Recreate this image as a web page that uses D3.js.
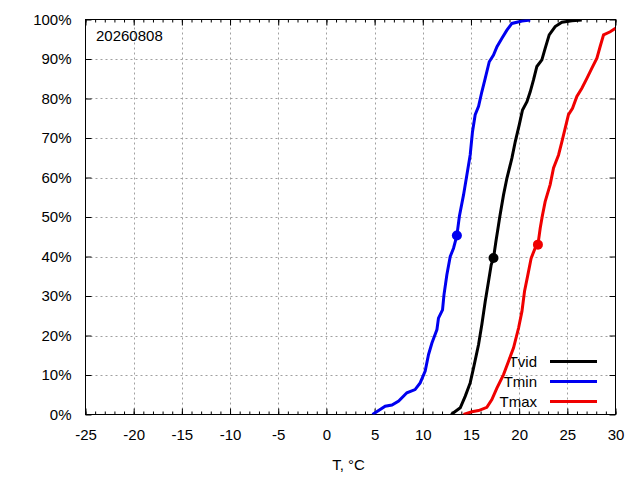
<!DOCTYPE html>
<html>
<head>
<meta charset="utf-8">
<script src="https://cdn.jsdelivr.net/npm/d3@7"></script>
<style>
  body { margin: 0; background: #fff; }
  svg { display: block; font-family: "Liberation Sans", Arial, sans-serif; }
</style>
</head>
<body>
<svg width="640" height="480"></svg>
<script>
// cumulative curves, [T, %]
var tvid = [[12.95, 0], [13.89, 1.7], [14.4, 4.6], [14.92, 8], [15.27, 11.8], [15.79, 17.7], [16.13, 22.8],
  [16.48, 28.6], [16.82, 33.7], [17.1, 37.9], [17.34, 39.6], [17.59, 43.8], [17.86, 48], [18.0, 50.2],
  [18.38, 55.6], [18.73, 59.8], [19.25, 64.9], [19.6, 69.1], [20.01, 73.3], [20.35, 77.1], [20.81, 79.2],
  [21.15, 81.7], [21.49, 84.7], [21.84, 88.1], [22.36, 89.8], [22.7, 92.7], [23.12, 96.1], [23.74, 98.2],
  [24.44, 99.3], [25.48, 99.7], [26.5, 99.9]];
var tmin = [[4.78, 0], [6.1, 2.1], [6.8, 2.4], [7.5, 3.4], [8.35, 5.5], [9.2, 6.3], [9.73, 8.0], [10.25, 11],
  [10.6, 15.2], [10.95, 18.1], [11.47, 21.5], [11.63, 24.4], [12.05, 26.5], [12.2, 30.3], [12.5, 35.4],
  [12.85, 40], [13.19, 42.1], [13.54, 45.3], [13.8, 50.2], [14.23, 55.6], [14.58, 60.7], [14.92, 65.7],
  [15.16, 71.6], [15.44, 75.9], [15.79, 78], [16.13, 81.7], [16.48, 85.1], [16.9, 89.3], [17.34, 91],
  [17.7, 93.1], [18.2, 95.2], [18.73, 97.3], [19.25, 99], [20.3, 99.6], [21.15, 99.9]];
var tmax = [[14.23, 0], [15.1, 0.7], [15.79, 1], [16.65, 1.8], [17.17, 3.8], [17.69, 6.7], [18.38, 10.1],
  [18.9, 13.5], [19.42, 16.9], [19.94, 21.9], [20.29, 26.1], [20.56, 31.2], [20.91, 35.4], [21.25, 39.6],
  [21.74, 42.6], [21.95, 43.0], [22.19, 47.2], [22.4, 50.2], [22.7, 53.9], [23.22, 58.2], [23.57, 62.4],
  [24.09, 65.7], [24.44, 69.1], [24.78, 72.5], [25.12, 75.9], [25.54, 77.5], [25.99, 80.5], [26.51, 82.6],
  [27.03, 85.1], [27.55, 87.7], [28.07, 90.2], [28.4, 93.1], [28.76, 96.1], [29.45, 96.9], [30.0, 97.8]];

// current-day markers
var marks = [[17.34, 39.6], [13.54, 45.3], [21.95, 43.0]];

var names = ["Tvid", "Tmin", "Tmax"];
var colors = ["#000000", "#0000f0", "#f00000"];
var series = [tvid, tmin, tmax];

var xTicks = [-25, -20, -15, -10, -5, 0, 5, 10, 15, 20, 25, 30];
var yTicks = [0, 10, 20, 30, 40, 50, 60, 70, 80, 90, 100];
var dateLabel = "20260808";
var xTitle = "T, °C";

var svg = d3.select("svg");

var x = d3.scaleLinear().domain([-25, 30]).range([85.5, 615.5]);
var y = d3.scaleLinear().domain([0, 100]).range([414.5, 19.5]);

var fs = "15px";

// grid
var grid = svg.append("g").attr("stroke", "#a0a0a0").attr("stroke-width", 1).attr("stroke-dasharray", "2,3");
grid.selectAll(".gx").data(xTicks.slice(1, -1)).enter().append("line")
  .attr("x1", function(d) { return Math.round(x(d)) + 0.5; })
  .attr("x2", function(d) { return Math.round(x(d)) + 0.5; })
  .attr("y1", y(0)).attr("y2", y(100));
grid.selectAll(".gy").data(yTicks.slice(1, -1)).enter().append("line")
  .attr("y1", function(d) { return Math.round(y(d)) + 0.5; })
  .attr("y2", function(d) { return Math.round(y(d)) + 0.5; })
  .attr("x1", x(-25)).attr("x2", x(30));

// axes
function styleAxis(g) {
  g.select(".domain").remove();
  g.selectAll("text").attr("font-size", fs).attr("fill", "#000").attr("font-family", "Liberation Sans, Arial, sans-serif");
}

svg.append("g").attr("transform", "translate(0," + y(0) + ")")
  .call(d3.axisBottom(x).tickValues(xTicks).tickSize(-6).tickPadding(15).tickFormat(function(d) { return String(d); }))
  .call(styleAxis);
svg.append("g").attr("transform", "translate(0," + y(0) + ")")
  .call(d3.axisBottom(x).tickValues(d3.range(-25, 31)).tickSize(-3).tickFormat(""))
  .call(styleAxis);
svg.append("g").attr("transform", "translate(0," + y(100) + ")")
  .call(d3.axisTop(x).tickValues(xTicks).tickSize(-6).tickFormat(""))
  .call(styleAxis);
svg.append("g").attr("transform", "translate(0," + y(100) + ")")
  .call(d3.axisTop(x).tickValues(d3.range(-25, 31)).tickSize(-3).tickFormat(""))
  .call(styleAxis);
svg.append("g").attr("transform", "translate(" + x(-25) + ",0)")
  .call(d3.axisLeft(y).tickValues(yTicks).tickSize(-6).tickPadding(14).tickFormat(function(d) { return d + "%"; }))
  .call(styleAxis);
svg.append("g").attr("transform", "translate(" + x(30) + ",0)")
  .call(d3.axisRight(y).tickValues(yTicks).tickSize(-6).tickFormat(""))
  .call(styleAxis);

// border
svg.append("rect")
  .attr("x", x(-25)).attr("y", y(100))
  .attr("width", x(30) - x(-25)).attr("height", y(0) - y(100))
  .attr("fill", "none").attr("stroke", "#000").attr("stroke-width", 1);

// labels
svg.append("text").attr("x", 96).attr("y", 41).attr("font-size", fs).text(dateLabel);
svg.append("text").attr("x", (x(-25) + x(30)) / 2 - 2).attr("y", 470).attr("text-anchor", "middle")
  .attr("font-size", fs).text(xTitle);

// legend
var legend = svg.append("g");
names.forEach(function(n, i) {
  var ly = 361.5 + i * 20;
  legend.append("text").attr("x", 537).attr("y", ly + 5).attr("text-anchor", "end")
    .attr("font-size", fs).text(n);
  legend.append("line").attr("x1", 550).attr("x2", 597).attr("y1", ly).attr("y2", ly)
    .attr("stroke", colors[i]).attr("stroke-width", 3);
});

// curves
svg.append("clipPath").attr("id", "clip").append("rect")
  .attr("x", x(-25)).attr("y", y(100)).attr("width", x(30) - x(-25)).attr("height", y(0) - y(100));

var line = d3.line()
  .x(function(d) { return x(d[0]); })
  .y(function(d) { return y(d[1]); });

var plot = svg.append("g").attr("clip-path", "url(#clip)");
series.forEach(function(s, i) {
  plot.append("path").datum(s)
    .attr("fill", "none").attr("stroke", colors[i]).attr("stroke-width", 3)
    .attr("stroke-linejoin", "miter")
    .attr("d", line);
});

svg.selectAll(".mark").data(marks).enter().append("circle")
  .attr("cx", function(d) { return x(d[0]); })
  .attr("cy", function(d) { return y(d[1]); })
  .attr("r", 5)
  .attr("fill", function(d, i) { return colors[i]; });
</script>
</body>
</html>
